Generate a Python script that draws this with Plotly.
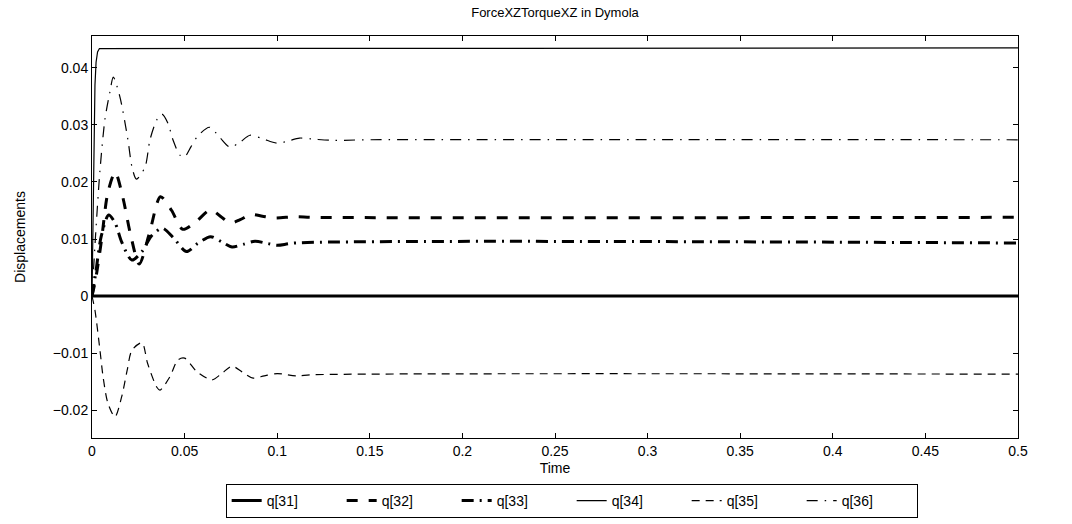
import plotly.graph_objects as go

# ---- data ----
t31 = [0, 0.5]
q31 = [0, 0]

t32 = [0, 0.002, 0.005, 0.0086, 0.0125, 0.0165, 0.021, 0.0255, 0.031, 0.037, 0.043, 0.049,
       0.056, 0.064, 0.070, 0.075, 0.080, 0.086, 0.092, 0.098, 0.11, 0.12, 0.5]
q32 = [0, 0.003, 0.0095, 0.0182, 0.0217, 0.0175, 0.0105, 0.0056, 0.011, 0.0174, 0.015, 0.0117,
       0.013, 0.0151, 0.0138, 0.0128, 0.0134, 0.0143, 0.0140, 0.0137, 0.0139, 0.0138, 0.0138]

t33 = [0, 0.002, 0.005, 0.009, 0.0125, 0.016, 0.0215, 0.027, 0.032, 0.038, 0.044, 0.051,
       0.057, 0.064, 0.070, 0.0756, 0.082, 0.088, 0.095, 0.1, 0.11, 0.5]
q33 = [0, 0.004, 0.0105, 0.0142, 0.0128, 0.0095, 0.0063, 0.0078, 0.0105, 0.0119, 0.0102, 0.0078,
       0.0092, 0.0104, 0.0095, 0.0086, 0.0091, 0.0096, 0.0092, 0.0089, 0.0093, 0.0093]

t34 = [0, 0.0004, 0.0008, 0.0012, 0.0016, 0.0022, 0.003, 0.004, 0.5]
q34 = [0, 0.012, 0.022, 0.031, 0.037, 0.041, 0.0428, 0.0434, 0.0435]

t35 = [0, 0.0016, 0.0043, 0.006, 0.0086, 0.0124, 0.016, 0.019, 0.0216, 0.027, 0.030, 0.035,
       0.0367, 0.042, 0.0464, 0.050, 0.0567, 0.0648, 0.070, 0.0756, 0.081, 0.087, 0.093, 0.1,
       0.11, 0.12, 0.5]
q35 = [0, -0.0025, -0.0095, -0.0142, -0.0188, -0.0212, -0.0177, -0.013, -0.0095, -0.0082, -0.0118, -0.016,
       -0.0165, -0.0142, -0.0112, -0.0109, -0.0133, -0.0147, -0.0136, -0.0123, -0.0133, -0.0144, -0.0140, -0.0136,
       -0.0140, -0.0138, -0.0137]

t36 = [0, 0.002, 0.0043, 0.007, 0.0097, 0.0115, 0.015, 0.0194, 0.0216, 0.024, 0.0286, 0.0313,
       0.035, 0.0378, 0.041, 0.0437, 0.0475, 0.050, 0.0535, 0.057, 0.0635, 0.069, 0.0745, 0.080,
       0.0853, 0.092, 0.1, 0.106, 0.112, 0.12, 0.13, 0.15, 0.5]
q36 = [0, 0.011, 0.022, 0.031, 0.0358, 0.0384, 0.035, 0.0274, 0.0226, 0.0205, 0.0226, 0.0274,
       0.0309, 0.0319, 0.0303, 0.0274, 0.0247, 0.0244, 0.0262, 0.028, 0.0296, 0.0278, 0.0261, 0.027,
       0.0282, 0.0276, 0.0268, 0.0272, 0.0277, 0.0275, 0.0273, 0.0274, 0.0274]

names = ["q[31]", "q[32]", "q[33]", "q[34]", "q[35]", "q[36]"]
x_ticks = [0, 0.05, 0.1, 0.15, 0.2, 0.25, 0.3, 0.35, 0.4, 0.45, 0.5]
y_ticks = [-0.02, -0.01, 0, 0.01, 0.02, 0.03, 0.04]

series = [
    (t31, q31, 3, "solid", "linear"),
    (t32, q32, 3, "11px,11px", "spline"),
    (t33, q33, 3, "12px,6px,2px,6px", "spline"),
    (t34, q34, 1.2, "solid", "linear"),
    (t35, q35, 1.2, "8px,6px", "spline"),
    (t36, q36, 1.2, "11px,7px,1.5px,7px", "spline"),
]

fig = go.Figure()
for name, (tx, vy, w, dash, shape) in zip(names, series):
    fig.add_trace(go.Scatter(
        x=tx, y=vy, mode="lines", name=name,
        line=dict(color="black", width=w, dash=dash, shape=shape, smoothing=0.8),
    ))

axis_common = dict(
    showline=True, linecolor="black", linewidth=1, mirror="ticks",
    ticks="inside", ticklen=5, tickcolor="black", tickwidth=1,
    showgrid=False, zeroline=False,
    tickfont=dict(family="Liberation Sans, Arial, sans-serif", size=14, color="black"),
)

fig.update_layout(
    width=1072, height=524,
    margin=dict(l=92, r=54, t=36, b=86, autoexpand=False),
    paper_bgcolor="white", plot_bgcolor="white",
    font=dict(family="Liberation Sans, Arial, sans-serif", size=14, color="black"),
    title=dict(text="ForceXZTorqueXZ in Dymola", xref="paper", x=0.5, xanchor="center",
               y=0.977, yanchor="middle", font=dict(size=13)),
    xaxis=dict(range=[0, 0.5], tickvals=x_ticks,
               ticktext=[("%g" % v) for v in x_ticks],
               title=dict(text="Time", standoff=5, font=dict(size=14)), **axis_common),
    yaxis=dict(range=[-0.0249, 0.0456], tickvals=y_ticks,
               ticktext=[("%g" % v).replace("-", "\u2212") for v in y_ticks],
               title=dict(text="Displacements", standoff=23, font=dict(size=14)), **axis_common),
    legend=dict(orientation="h", x=0.518, xanchor="center",
                yref="container", y=1 - 484 / 524, yanchor="top",
                bordercolor="black", borderwidth=1, bgcolor="white",
                font=dict(size=14), entrywidth=70, tracegroupgap=0),
    showlegend=True,
)

fig.write_html("out.html", config={"displayModeBar": False},
               post_script="document.body.style.margin='0px';")
